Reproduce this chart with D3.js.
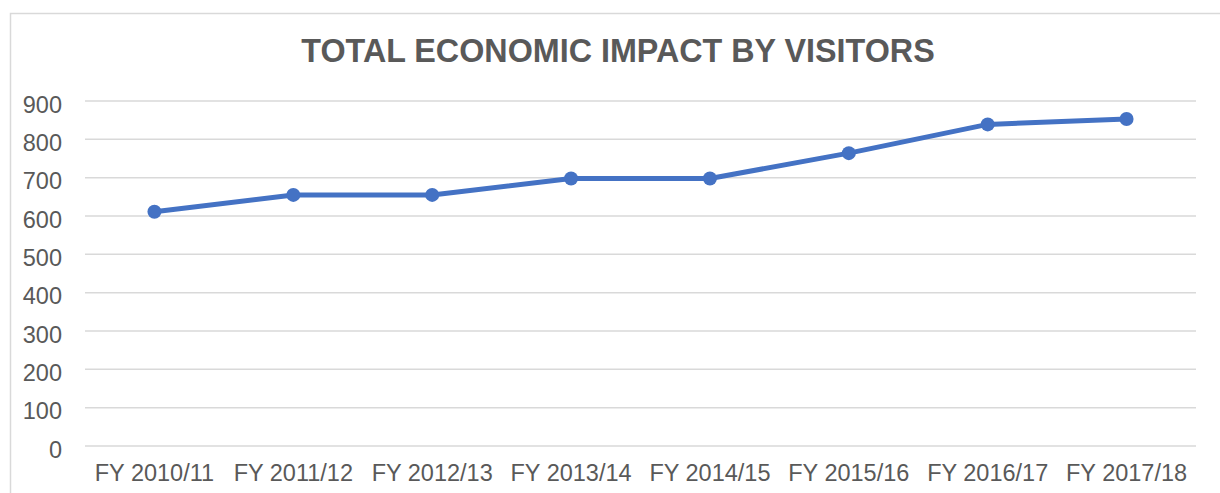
<!DOCTYPE html>
<html>
<head>
<meta charset="utf-8">
<script src="https://cdn.jsdelivr.net/npm/d3@7"></script>
<style>
  html, body { margin: 0; padding: 0; background: #fff; }
  svg { display: block; font-family: "Liberation Sans", Arial, sans-serif; }
</style>
</head>
<body>
<svg id="chart" width="1220" height="493"></svg>
<script>
// Data
// ----
const title = "TOTAL ECONOMIC IMPACT BY VISITORS";
const years = ["FY 2010/11", "FY 2011/12", "FY 2012/13", "FY 2013/14",
               "FY 2014/15", "FY 2015/16", "FY 2016/17", "FY 2017/18"];
const impact = [611, 655, 655, 698, 698, 764, 839, 853];
const yTicks = [0, 100, 200, 300, 400, 500, 600, 700, 800, 900];

// Layout
// ------
const svg = d3.select("#chart");
const plot = { left: 85, right: 1196, top: 101, bottom: 446 };
const textColor = "#595959";
const gridColor = "#d9d9d9";
const lineColor = "#4472c4";

const x = d3.scaleBand().domain(years).range([plot.left, plot.right]);
const y = d3.scaleLinear().domain([0, 900]).range([plot.bottom, plot.top]);

// Chart border (left and top visible, rest runs off the picture)
svg.append("rect")
  .attr("x", 10.5).attr("y", 13.5)
  .attr("width", 1240).attr("height", 520)
  .attr("fill", "none")
  .attr("stroke", gridColor)
  .attr("stroke-width", 1.5);

// Title
svg.append("text")
  .attr("x", 618).attr("y", 62)
  .attr("text-anchor", "middle")
  .attr("font-size", 32.3)
  .attr("font-weight", "bold")
  .attr("fill", textColor)
  .text(title);

// Gridlines
svg.append("g")
  .selectAll("line")
  .data(yTicks)
  .join("line")
  .attr("x1", plot.left).attr("x2", plot.right)
  .attr("y1", d => y(d)).attr("y2", d => y(d))
  .attr("stroke", gridColor)
  .attr("stroke-width", 1.5);

// Y axis labels
const yAxis = svg.append("g")
  .attr("transform", `translate(${plot.left - 23},0)`)
  .call(d3.axisLeft(y).tickValues(yTicks).tickSize(0).tickPadding(0));
yAxis.select(".domain").remove();
yAxis.selectAll("text")
  .attr("font-size", 23.5)
  .attr("font-family", "Liberation Sans, Arial, sans-serif")
  .attr("fill", textColor)
  .attr("dy", "0.48em");

// X axis labels
const xAxis = svg.append("g")
  .attr("transform", `translate(0,${plot.bottom})`)
  .call(d3.axisBottom(x).tickSize(0).tickPadding(0));
xAxis.select(".domain").remove();
xAxis.selectAll("text")
  .attr("font-size", 23.5)
  .attr("font-family", "Liberation Sans, Arial, sans-serif")
  .attr("fill", textColor)
  .attr("dy", "1.5em");

// Line and markers
const cx = d => x(d) + x.bandwidth() / 2;
const line = d3.line()
  .x((d, i) => cx(years[i]))
  .y(d => y(d));

svg.append("path")
  .datum(impact)
  .attr("d", line)
  .attr("fill", "none")
  .attr("stroke", lineColor)
  .attr("stroke-width", 5)
  .attr("stroke-linejoin", "round")
  .attr("stroke-linecap", "round");

svg.append("g")
  .selectAll("circle")
  .data(impact)
  .join("circle")
  .attr("cx", (d, i) => cx(years[i]))
  .attr("cy", d => y(d))
  .attr("r", 7)
  .attr("fill", lineColor);
</script>
</body>
</html>
